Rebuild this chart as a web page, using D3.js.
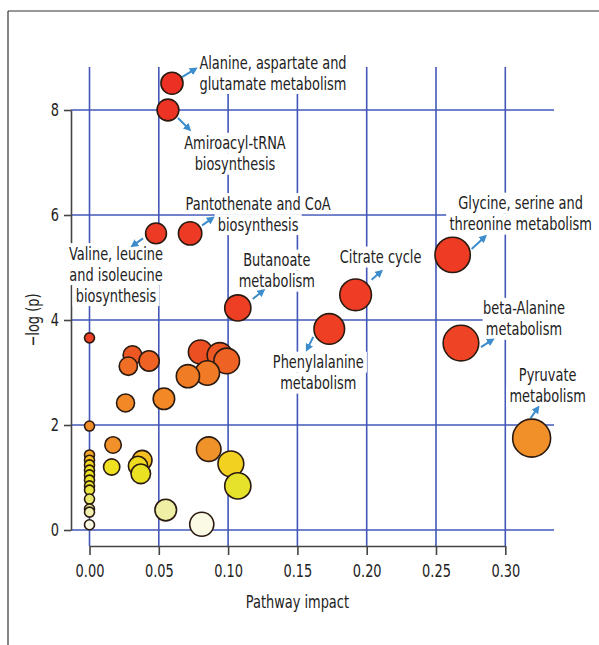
<!DOCTYPE html>
<html>
<head>
<meta charset="utf-8">
<script src="https://cdn.jsdelivr.net/npm/d3@7"></script>
<style>
    body { margin: 0; background: white; }
    svg text { font-family: "DejaVu Sans Condensed", "DejaVu Sans", sans-serif; fill: #222; }
</style>
</head>
<body>
<svg id="impact_svg" width="599" height="645"></svg>
<script>
// pathway names (null = not labelled), impact and -log(p)
const pathways = [
    'Alanine, aspartate and glutamate metabolism',
    'Aminoacyl-tRNA biosynthesis',
    'Valine, leucine and isoleucine biosynthesis',
    'Pantothenate and CoA biosynthesis',
    'Butanoate metabolism',
    'Citrate cycle',
    'Phenylalanine metabolism',
    'Glycine, serine and threonine metabolism',
    'beta-Alanine metabolism',
    'Pyruvate metabolism',
    null, null, null, null, null, null, null, null, null, null, null,
    null, null, null, null, null, null, null, null, null, null, null,
    null, null, null, null, null, null, null, null, null, null, null, null
];
const impact = [
    0.0595, 0.0566, 0.048, 0.0726, 0.107, 0.192, 0.173, 0.262, 0.268, 0.319,
    0, 0.031, 0.028, 0.043, 0.080, 0.094, 0.099, 0.085, 0.071, 0.0537, 0.026,
    0, 0.017, 0.016, 0.038, 0.035, 0.037, 0.086, 0.102, 0.107, 0.055, 0.081,
    0, 0, 0, 0, 0, 0, 0, 0, 0, 0, 0, 0
];
const logP = [
    8.51, 8.00, 5.65, 5.65, 4.23, 4.48, 3.83, 5.24, 3.56, 1.75,
    3.66, 3.33, 3.12, 3.22, 3.39, 3.33, 3.22, 2.99, 2.93, 2.50, 2.42,
    1.98, 1.62, 1.20, 1.33, 1.22, 1.07, 1.54, 1.26, 0.84, 0.38, 0.11,
    1.43, 1.33, 1.24, 1.14, 1.05, 0.95, 0.84, 0.76, 0.59, 0.40, 0.34, 0.10
];
const xTicks = [0, 0.05, 0.10, 0.15, 0.20, 0.25, 0.30];
const yTicks = [0, 2, 4, 6, 8];

// label text lines, label offset from point and arrow (relative to point, px)
const labels = {
    'Alanine, aspartate and glutamate metabolism': {lines: ['Alanine, aspartate and', 'glutamate metabolism'], dx: 101, dy: -21, arrow: [10, -6, 23, -14]},
    'Aminoacyl-tRNA biosynthesis': {lines: ['Amiroacyl-tRNA', 'biosynthesis'], dx: 67, dy: 33, arrow: [10, 8, 21, 19]},
    'Valine, leucine and isoleucine biosynthesis': {lines: ['Valine, leucine', 'and isoleucine', 'biosynthesis'], dx: -40, dy: 20, arrow: [-13, 5, -23, 12]},
    'Pantothenate and CoA biosynthesis': {lines: ['Pantothenate and CoA', 'biosynthesis'], dx: 68, dy: -30, arrow: [12, -8, 22, -15]},
    'Butanoate metabolism': {lines: ['Butanoate', 'metabolism'], dx: 39, dy: -48, arrow: [15, -9, 25, -17]},
    'Citrate cycle': {lines: ['Citrate cycle'], dx: 25, dy: -38, arrow: [16, -15, 25, -23]},
    'Phenylalanine metabolism': {lines: ['Phenylalanine', 'metabolism'], dx: -11, dy: 33, arrow: [-16, 8, -22, 20]},
    'Glycine, serine and threonine metabolism': {lines: ['Glycine, serine and', 'threonine metabolism'], dx: 68, dy: -52, arrow: [19, -6, 32, -18]},
    'beta-Alanine metabolism': {lines: ['beta-Alanine', 'metabolism'], dx: 63, dy: -35, arrow: [20, 4, 31, -3]},
    'Pyruvate metabolism': {lines: ['Pyruvate', 'metabolism'], dx: 16, dy: -63, arrow: [-1, -20, 6, -30]}
};

const colors = {
    grid: '#4257b8',
    axis: '#444',
    arrow: '#3d8ccc',
    frame: '#333'
};

// the original uses a condensed face, squeeze DejaVu horizontally
const fontSize = 18;
const squeeze = 0.8;

const svg = d3.select('#impact_svg');

// frame around the figure
svg.append('line').attr('x1', 8).attr('y1', 11).attr('x2', 599).attr('y2', 11)
    .attr('stroke', colors.frame).attr('stroke-width', 1.2);
svg.append('line').attr('x1', 8).attr('y1', 11).attr('x2', 8).attr('y2', 645)
    .attr('stroke', colors.frame).attr('stroke-width', 1.2);

const xScale = d3.scaleLinear().domain([0, 0.30]).range([89.5, 505.3]);
const yScale = d3.scaleLinear().domain([0, 8]).range([530, 110]);
const rScale = d3.scaleSqrt().domain([0, 0.32]).range([5, 19]);
const colorScale = d3.scaleLinear()
    .domain([0, 0.4, 0.85, 1.2, 1.33, 1.5, 2.5, 3.0, 3.4, 3.6, 9])
    .range(['#ffffff', '#eeeea0', '#e6e228', '#eee020', '#f6c020', '#f0922a',
        '#f28826', '#f07a26', '#ec4f22', '#ee4024', '#ec3024']);

const gridTop = 67, gridRight = 554, xAxisY = 546, yAxisX = 71;

// grid
const gridG = svg.append('g');
gridG.selectAll('.vgrid').data(xTicks).enter().append('line')
    .attr('x1', d => xScale(d)).attr('x2', d => xScale(d))
    .attr('y1', gridTop).attr('y2', xAxisY)
    .attr('stroke', colors.grid).attr('stroke-width', 1.6);
gridG.selectAll('.hgrid').data(yTicks).enter().append('line')
    .attr('x1', yAxisX).attr('x2', gridRight)
    .attr('y1', d => yScale(d)).attr('y2', d => yScale(d))
    .attr('stroke', colors.grid).attr('stroke-width', 1.6);

// axes
const xAxis = d3.axisBottom(xScale).tickValues(xTicks).tickFormat(d3.format('.2f'))
    .tickSizeInner(9).tickSizeOuter(0).tickPadding(9);
const xAxisG = svg.append('g').attr('transform', `translate(0, ${xAxisY})`).call(xAxis);
const yAxis = d3.axisLeft(yScale).tickValues(yTicks).tickSizeInner(7).tickSizeOuter(0);
const yAxisG = svg.append('g').attr('transform', `translate(${yAxisX}, 0)`).call(yAxis);
[xAxisG, yAxisG].forEach(g => {
    g.select('.domain').attr('stroke', colors.axis).attr('stroke-width', 1.6);
    g.selectAll('.tick line').attr('stroke', colors.axis).attr('stroke-width', 1.6);
    g.selectAll('.tick text').attr('font-size', fontSize).attr('fill', '#222')
        .attr('transform', `scale(${squeeze}, 1)`)
        .style('font-family', '"DejaVu Sans Condensed", "DejaVu Sans", sans-serif');
});
yAxisG.selectAll('.tick text').attr('x', -12 / squeeze);

svg.append('text')
    .attr('transform', `translate(${(xScale(0) + xScale(0.30)) / 2}, 608) scale(${squeeze}, 1)`)
    .attr('text-anchor', 'middle').attr('font-size', fontSize)
    .text('Pathway impact');
svg.append('text')
    .attr('transform', `translate(39, 320) rotate(-90) scale(${squeeze}, 1)`)
    .attr('text-anchor', 'middle').attr('font-size', fontSize)
    .text('\u2212log (p)');

const points = pathways.map((name, i) => ({name: name, impact: impact[i], logP: logP[i]}));

// labels with white boxes
svg.append('defs').append('marker')
    .attr('id', 'arrowhead').attr('viewBox', '0 0 10 10')
    .attr('refX', 6).attr('refY', 5)
    .attr('markerWidth', 4).attr('markerHeight', 4)
    .attr('orient', 'auto')
    .append('path').attr('d', 'M0,0 L10,5 L0,10 z').attr('fill', colors.arrow);

const labelG = svg.append('g');
points.filter(p => p.name).forEach(function (p) {
    const lab = labels[p.name];
    const cx = xScale(p.impact), cy = yScale(p.logP);
    lab.lines.forEach(function (line, k) {
        const g = labelG.append('g')
            .attr('transform', `translate(${cx + lab.dx}, ${cy + lab.dy + k * 21}) scale(${squeeze}, 1)`);
        const t = g.append('text')
            .attr('dy', '0.35em')
            .attr('text-anchor', 'middle')
            .attr('font-size', fontSize)
            .text(line);
        const bb = t.node().getBBox();
        g.insert('rect', 'text')
            .attr('x', bb.x - 4).attr('y', bb.y)
            .attr('width', bb.width + 8).attr('height', bb.height)
            .attr('fill', 'white');
    });
    labelG.append('line')
        .attr('x1', cx + lab.arrow[0]).attr('y1', cy + lab.arrow[1])
        .attr('x2', cx + lab.arrow[2]).attr('y2', cy + lab.arrow[3])
        .attr('stroke', colors.arrow).attr('stroke-width', 2)
        .attr('marker-end', 'url(#arrowhead)');
});

// circles, higher -log(p) drawn first
const sorted = points.slice().sort((a, b) => b.logP - a.logP);
svg.append('g').selectAll('circle')
    .data(sorted)
    .enter()
    .append('circle')
    .attr('cx', d => xScale(d.impact))
    .attr('cy', d => yScale(d.logP))
    .attr('r', d => rScale(d.impact))
    .attr('fill', d => colorScale(d.logP))
    .attr('stroke', '#2a1a10')
    .attr('stroke-width', 1.6);
</script>
</body>
</html>
